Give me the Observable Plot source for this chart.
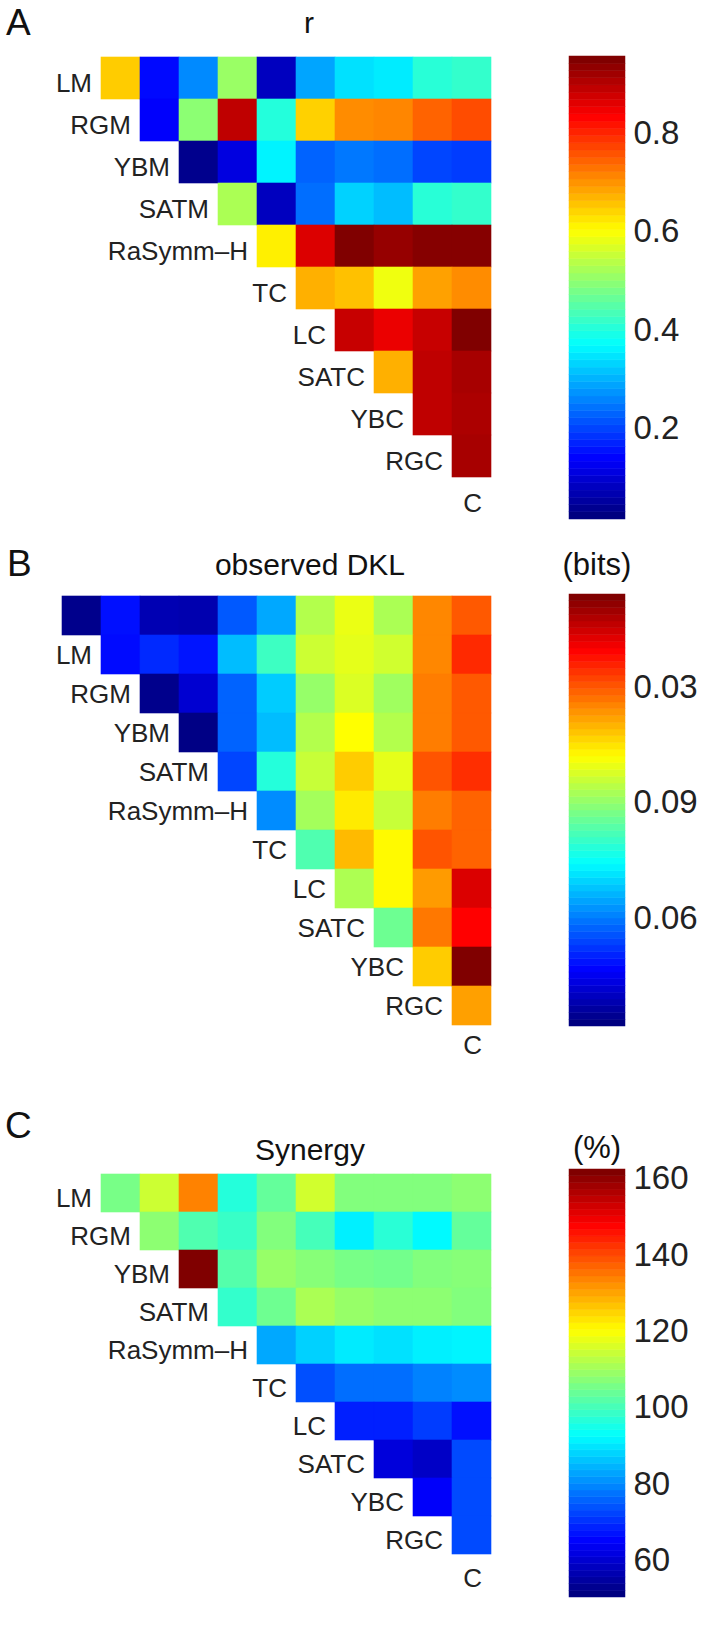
<!DOCTYPE html>
<html><head><meta charset="utf-8">
<script src="https://cdn.jsdelivr.net/npm/d3@7"></script>
<script src="https://cdn.jsdelivr.net/npm/@observablehq/plot@0.6"></script>
<style>
html,body{margin:0;padding:0;background:#fff;}
#page{position:relative;width:702px;height:1645px;overflow:hidden;font-family:"Liberation Sans",Arial,Helvetica,sans-serif;}
#page svg{position:absolute;}
</style></head><body><div id="page"></div>
<script>
// ---------- data ----------
const labels = ["LM","RGM","YBM","SATM","RaSymm\u2013H","TC","LC","SATC","YBC","RGC","C"];

// Panel A: r (upper triangle, one array per row LM..RGC)
const rValues = [
  [0.65, 0.14, 0.26, 0.51, 0.074, 0.285, 0.34, 0.35, 0.405, 0.415],
  [0.13, 0.497, 0.897, 0.40, 0.646, 0.709, 0.715, 0.747, 0.768],
  [0.027, 0.104, 0.358, 0.224, 0.243, 0.234, 0.196, 0.188],
  [0.526, 0.074, 0.234, 0.326, 0.307, 0.405, 0.415],
  [0.617, 0.871, 0.956, 0.935, 0.95, 0.95],
  [0.676, 0.66, 0.589, 0.69, 0.709],
  [0.89, 0.857, 0.89, 0.956],
  [0.676, 0.897, 0.92],
  [0.897, 0.915],
  [0.92]
];
const rDomain = [0.015, 0.956];
const rTicks = [0.2, 0.4, 0.6, 0.8];
const rTickLabels = ["0.2", "0.4", "0.6", "0.8"];

// Panel B: observed DKL (first row unlabelled, then LM..RGC)
const dklValues = [
  [0.0334, 0.0477, 0.0376, 0.0372, 0.0558, 0.0645, 0.0936, 0.0998, 0.0928, 0.1152, 0.1202],
  [0.0471, 0.0505, 0.0482, 0.0667, 0.0807, 0.0964, 0.0992, 0.0968, 0.1152, 0.1255],
  [0.0334, 0.041, 0.0569, 0.0684, 0.0905, 0.0981, 0.0916, 0.1163, 0.1202],
  [0.0326, 0.0569, 0.0667, 0.0936, 0.102, 0.0936, 0.1163, 0.1202],
  [0.0536, 0.0779, 0.0958, 0.1076, 0.0992, 0.1208, 0.125],
  [0.0614, 0.092, 0.1042, 0.0958, 0.1163, 0.1191],
  [0.0827, 0.1096, 0.1026, 0.1208, 0.1191],
  [0.093, 0.1026, 0.113, 0.134],
  [0.086, 0.1168, 0.130],
  [0.1076, 0.144],
  [0.1124]
];
const dklDomain = [0.032, 0.144];
const dklTicks = [0.06, 0.09, 0.12];
const dklTickLabels = ["0.06", "0.09", "0.03"];

// Panel C: Synergy (%)
const synValues = [
  [105.5, 114.8, 134.1, 96.3, 103.3, 115.3, 106.6, 106.6, 106.6, 107.8],
  [107.8, 101.0, 98.5, 106.6, 99.9, 90.7, 96.8, 91.8, 103.3],
  [162.4, 101.6, 108.9, 107.2, 105.5, 105.0, 106.6, 107.2],
  [97.9, 104.4, 111.1, 108.9, 107.8, 107.8, 106.6],
  [82.8, 87.3, 90.1, 89.0, 90.7, 91.2],
  [73.0, 76.4, 76.4, 78.6, 79.7],
  [67.7, 67.7, 70.9, 66.0],
  [60.4, 58.1, 72.5],
  [63.8, 72.5],
  [72.5]
];
const synDomain = [50.3, 162.4];
const synTicks = [60, 80, 100, 120, 140, 160];
const synTickLabels = ["60", "80", "100", "120", "140", "160"];

// ---------- helpers ----------
const FONT = '"Liberation Sans", Arial, Helvetica, sans-serif';
const INK = "#222";
function jet(t) {
  t = Math.max(0, Math.min(1, t));
  const c = v => Math.round(255 * Math.max(0, Math.min(1, v)));
  const r = Math.min(4 * t - 1.5, -4 * t + 4.5);
  const g = Math.min(4 * t - 0.5, -4 * t + 3.5);
  const b = Math.min(4 * t + 0.5, -4 * t + 2.5);
  return `rgb(${c(r)},${c(g)},${c(b)})`;
}
const page = document.getElementById("page");

function place(el, left, top) {
  el.style.left = left + "px";
  el.style.top = top + "px";
  page.appendChild(el);
}

function heatmap({values, domain, top, height, marginTop, marginBottom, labelDy}) {
  const nRows = values.length + 1;
  const offset = values.length - (labels.length - 1); // 0 for 10-row panels, 1 for 11-row panel
  const cells = [];
  values.forEach((row, i) => {
    row.forEach((v, j) => {
      cells.push({row: i, col: labels[labels.length - row.length + j], value: v});
    });
  });
  const names = labels.map((name, k) => ({row: k + offset, col: name, text: name}));
  const svg = Plot.plot({
    width: 540, height,
    marginLeft: 60.5, marginRight: 47.5, marginTop, marginBottom,
    style: {fontFamily: FONT, background: "transparent", color: INK},
    x: {type: "band", domain: labels, padding: 0, axis: null},
    y: {type: "band", domain: d3.range(nRows), padding: 0, axis: null},
    color: {type: "linear", domain, interpolate: jet, clamp: true},
    marks: [
      Plot.cell(cells, {x: "col", y: "row", fill: "value", stroke: "value", strokeWidth: 0.6, inset: 0}),
      Plot.text(names, {x: "col", y: "row", text: "text", textAnchor: "end", dx: 10, dy: labelDy,
        fontSize: 26, fill: INK})
    ]
  });
  place(svg, 0, top);
}

function colorbar({domain, ticks, tickLabels, top, height, marginTop, marginBottom}) {
  const n = 64;
  const step = (domain[1] - domain[0]) / n;
  const bands = d3.range(n).map(i => ({
    y1: domain[0] + i * step,
    y2: domain[0] + (i + 1) * step,
    v: domain[0] + (i / (n - 1)) * (domain[1] - domain[0])
  }));
  const svg = Plot.plot({
    width: 162, height,
    marginLeft: 29, marginRight: 77, marginTop, marginBottom,
    style: {fontFamily: FONT, background: "transparent", color: INK, fontSize: "33px"},
    x: {domain: [0, 1], axis: null},
    y: {domain, axis: "right", ticks, tickFormat: d => tickLabels[ticks.indexOf(d)],
        tickSize: 0, tickPadding: 8, label: null},
    color: {type: "linear", domain, interpolate: jet, clamp: true},
    marks: [
      Plot.rect(bands, {x1: () => 0, x2: () => 1, y1: "y1", y2: "y2", fill: "v", stroke: "v", strokeWidth: 0.5})
    ]
  });
  place(svg, 540, top);
}

// ---------- panels ----------
heatmap({values: rValues, domain: rDomain, top: 0, height: 540, marginTop: 57, marginBottom: 21, labelDy: 5});
colorbar({domain: rDomain, ticks: rTicks, tickLabels: rTickLabels, top: 0, height: 540, marginTop: 56, marginBottom: 21});

heatmap({values: dklValues, domain: dklDomain, top: 520, height: 560, marginTop: 74, marginBottom: 14.8, labelDy: 1});
colorbar({domain: dklDomain, ticks: dklTicks, tickLabels: dklTickLabels, top: 520, height: 560, marginTop: 74, marginBottom: 54});

heatmap({values: synValues, domain: synDomain, top: 1080, height: 565, marginTop: 89, marginBottom: 48, labelDy: 5});
colorbar({domain: synDomain, ticks: synTicks, tickLabels: synTickLabels, top: 1080, height: 565, marginTop: 89, marginBottom: 48});

// ---------- titles / panel letters ----------
const texts = [
  {t: "A", x: 6, y: 35, size: 37, anchor: "start"},
  {t: "r", x: 309, y: 33, size: 30, anchor: "middle"},
  {t: "B", x: 7, y: 576, size: 37, anchor: "start"},
  {t: "observed DKL", x: 310, y: 575, size: 30, anchor: "middle"},
  {t: "(bits)", x: 597, y: 575, size: 31, anchor: "middle"},
  {t: "C", x: 5, y: 1138, size: 37, anchor: "start"},
  {t: "Synergy", x: 310, y: 1160, size: 30, anchor: "middle"},
  {t: "(%)", x: 597, y: 1158, size: 31, anchor: "middle"}
];
const overlay = d3.create("svg").attr("width", 702).attr("height", 1645)
  .style("left", "0px").style("top", "0px").style("pointer-events", "none")
  .attr("font-family", FONT).attr("fill", "#111");
overlay.selectAll("text").data(texts).join("text")
  .attr("x", d => d.x).attr("y", d => d.y)
  .attr("font-size", d => d.size).attr("text-anchor", d => d.anchor)
  .text(d => d.t);
page.appendChild(overlay.node());
</script>
</body></html>
